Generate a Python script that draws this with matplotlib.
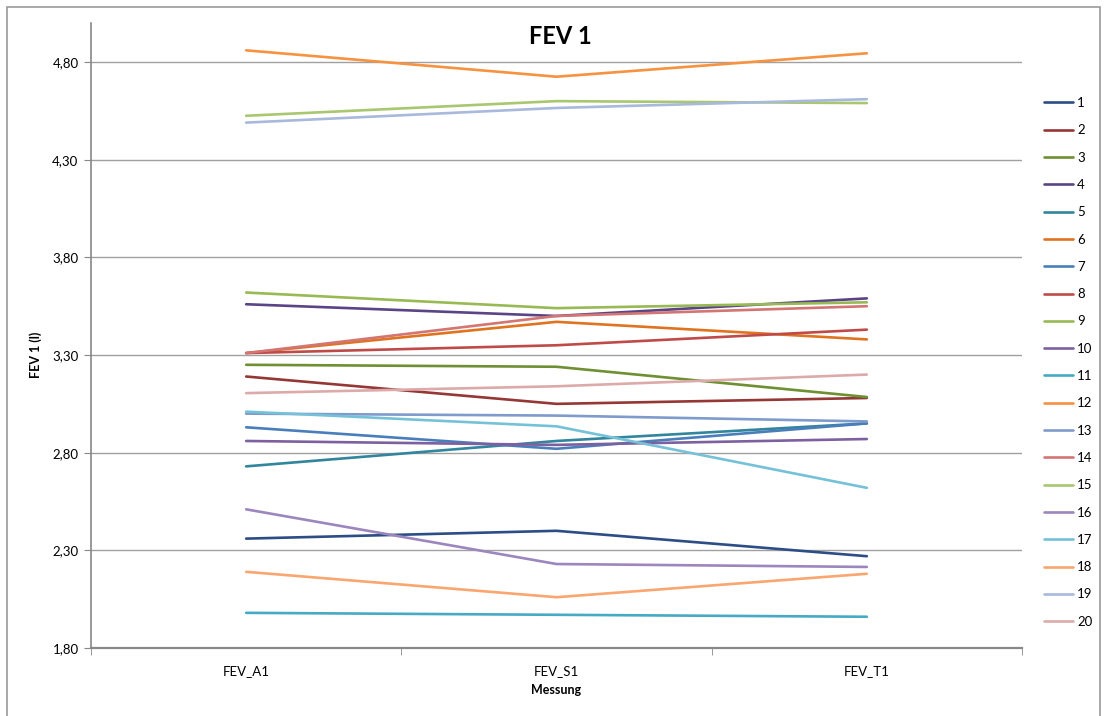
import numpy as np
import matplotlib
matplotlib.use("Agg")
import matplotlib.pyplot as plt
from matplotlib.patches import Rectangle

plt.rcParams['font.family'] = ['Lato', 'DejaVu Sans']

# measurements (x categories)
messungen = ["FEV_A1", "FEV_S1", "FEV_T1"]
serien = [str(i) for i in range(1, 21)]

# FEV 1 (l) per series
fev_a1 = [2.36, 3.19, 3.25, 3.56, 2.73, 3.31, 2.93, 3.31, 3.62, 2.86,
          1.98, 4.86, 3.00, 3.31, 4.525, 2.51, 3.01, 2.19, 4.49, 3.105]
fev_s1 = [2.40, 3.05, 3.24, 3.50, 2.86, 3.47, 2.82, 3.35, 3.54, 2.84,
          1.97, 4.725, 2.99, 3.50, 4.60, 2.23, 2.935, 2.06, 4.565, 3.14]
fev_t1 = [2.27, 3.08, 3.085, 3.59, 2.95, 3.38, 2.95, 3.43, 3.57, 2.87,
          1.96, 4.845, 2.96, 3.55, 4.59, 2.215, 2.62, 2.18, 4.61, 3.20]

# excel-ish palette
farben = ["#2C4D85", "#953735", "#6E8F32", "#5A4485", "#31859C",
          "#E0731F", "#4A7EBB", "#BE4B48", "#98B954", "#7D60A0",
          "#46AAC5", "#F69240", "#7E9BCB", "#D37572", "#A9C771",
          "#9B86BE", "#75C1D8", "#F9A670", "#A8B9DC", "#DDAAAA"]

y_ticks = [1.8, 2.3, 2.8, 3.3, 3.8, 4.3, 4.8]

W, H = 1105, 716
fig = plt.figure(figsize=(W / 100, H / 100), dpi=100)
ax = fig.add_axes([91 / W, 1 - 648 / H, (1022 - 91) / W, (648 - 23) / H])

# outer chart frame
fig.patches.append(Rectangle((7 / W, -0.02), (1100 - 7) / W, 1.02 - 7 / H,
                             transform=fig.transFigure, fill=False,
                             edgecolor="#9a9a9a", linewidth=1.2))

x = np.arange(len(messungen))
werte = np.array([fev_a1, fev_s1, fev_t1]).T
for name, row, col in zip(serien, werte, farben):
    ax.plot(x, row, color=col, linewidth=1.9, label=name,
            solid_capstyle="round")

ax.set_xlim(-0.5, 2.5)
ax.set_ylim(1.8, 5.0)
ax.set_yticks(y_ticks)
ax.set_yticklabels([f"{v:.2f}".replace(".", ",") for v in y_ticks])
ax.set_xticks(x)
ax.set_xticklabels(messungen)
ax.set_xticks([-0.5, 0.5, 1.5, 2.5], minor=True)
ax.tick_params(axis="x", which="major", length=0, pad=12, labelsize=9.5)
ax.tick_params(axis="x", which="minor", length=5, color="#888888")
ax.tick_params(axis="y", length=5, color="#888888", labelsize=9.5, pad=4)

ax.grid(axis="y", color="#a0a0a0", linewidth=1.0)
ax.set_axisbelow(True)
for s in ["top", "right"]:
    ax.spines[s].set_visible(False)
ax.spines["left"].set_color("#888888")
ax.spines["bottom"].set_color("#888888")
ax.spines["left"].set_linewidth(1.2)
ax.spines["bottom"].set_linewidth(1.6)

fig.text(560 / W, 1 - 36 / H, "FEV 1", ha="center", va="center",
         fontsize=17, fontweight="bold")
fig.text(36 / W, 1 - 355 / H, "FEV 1 (l)", ha="center", va="center",
         rotation=90, fontsize=9, fontweight="bold")
fig.text(556 / W, 1 - 690 / H, "Messung", ha="center", va="center",
         fontsize=9, fontweight="bold")

fig.legend(loc="upper left", bbox_to_anchor=(1044 / W, 1 - 97 / H),
           frameon=False, fontsize=9.5, handlelength=2.2, handletextpad=0.3,
           labelspacing=1.16, borderpad=0, borderaxespad=0)

fig.savefig("out.png", dpi=100)
